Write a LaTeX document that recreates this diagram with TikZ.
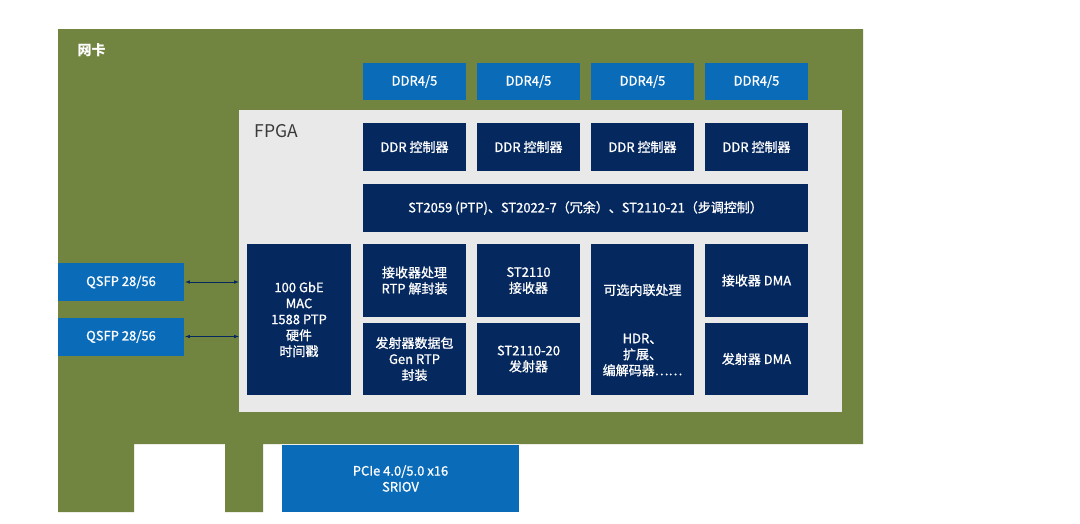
\documentclass[tikz,border=0pt]{standalone}
\usepackage{fontspec}
\setmainfont{Noto Sans CJK SC}
\newfontfamily\boxfont[FakeBold=1]{Noto Sans CJK SC}
\usetikzlibrary{positioning}
\usetikzlibrary{arrows}

\definecolor{board}{HTML}{718440}
\definecolor{navy}{HTML}{05285E}
\definecolor{intelblue}{HTML}{0A6BB8}
\definecolor{fpgagrey}{HTML}{E9E9E9}
\definecolor{fpgatext}{HTML}{3A3A3A}

\begin{document}
\begin{tikzpicture}[
    x=1pt, y=-1pt,
    block/.style={rectangle, fill=navy, text=white, inner sep=0pt, align=center, font=\boxfont\fontsize{13}{16}\selectfont},
    mem/.style={block, fill=intelblue},
    port/.style={mem, minimum width=126pt, minimum height=38pt},
    cell/.style={block, minimum width=103pt, minimum height=73pt},
    chip/.style={rectangle, fill=fpgagrey, inner sep=0pt},
    link/.style={<->, >=latex, navy, semithick, shorten <=1pt},
]

    \useasboundingbox (0,0) rectangle (1080,523);
    \fill[white] (0,0) rectangle (1080,523);

    % --- board with its edge tabs
    \fill[board] (58,29) -- (863,29) -- (863,444) -- (263,444) -- (263,512) -- (225,512)
        -- (225,444) -- (134,444) -- (134,512) -- (58,512) -- cycle;
    \node[anchor=west, text=white, font=\fontsize{14}{14}\selectfont\bfseries] (nic) at (74,50) {网卡};

    % --- FPGA
    \node[chip, minimum width=603pt, minimum height=302pt] (fpga) at (540.5,261) {};
    \node[anchor=west, text=fpgatext, font=\fontsize{17.5}{18}\selectfont] (fpgalbl) at (251,131) {FPGA};

    % --- memory and controllers
    \foreach \i in {0,...,3} {
        \node[mem, minimum width=103pt, minimum height=37pt] (ddr\i) at (414.5+114*\i, 81.5) {DDR4/5};
        \node[block, minimum width=103pt, minimum height=48pt] (ctl\i) at (414.5+114*\i, 147) {DDR 控制器};
    }

    \node[block, minimum width=445pt, minimum height=48pt] (st) at (585.5,208)
        {ST2059 (PTP)、ST2022-7（冗余）、ST2110-21（步调控制）};

    % --- MAC
    \node[block, minimum width=104pt, minimum height=151pt] (mac) at (299,319.5)
        {100 GbE\\MAC\\1588 PTP\\硬件\\时间戳};

    % --- processing blocks
    \node[cell] (rxrtp) at (414.5,280.5) {接收器处理\\RTP 解封装};
    \node[cell, minimum height=72pt] (txrtp) at (414.5,359) {发射器数据包\\Gen RTP\\封装};
    \node[cell] (rx2110) at (528.5,280.5) {ST2110\\接收器};
    \node[cell, minimum height=72pt] (tx2110) at (528.5,359) {ST2110-20\\发射器};
    \node[cell, minimum height=151pt] (opt) at (642.5,319.5) {};
    \node[block, fill=none] (optA) at (642.5,290) {可选内联处理};
    \node[block, fill=none] (optB) at (642.5,355) {HDR、\\扩展、\\编解码器……};
    \node[cell] (rxdma) at (756.5,280.5) {接收器 DMA};
    \node[cell, minimum height=72pt] (txdma) at (756.5,359) {发射器 DMA};

    % --- ports
    \node[port] (qsfp1) at (121,282) {QSFP 28/56};
    \node[port] (qsfp2) at (121,336.5) {QSFP 28/56};
    \node[mem, minimum width=237pt, minimum height=67pt] (pcie) at (400.5,478.5) {PCIe 4.0/5.0 x16\\SRIOV};

    \draw[link] (qsfp1) -- (qsfp1 -| fpga.west);
    \draw[link] (qsfp2) -- (qsfp2 -| fpga.west);

\end{tikzpicture}
\end{document}
